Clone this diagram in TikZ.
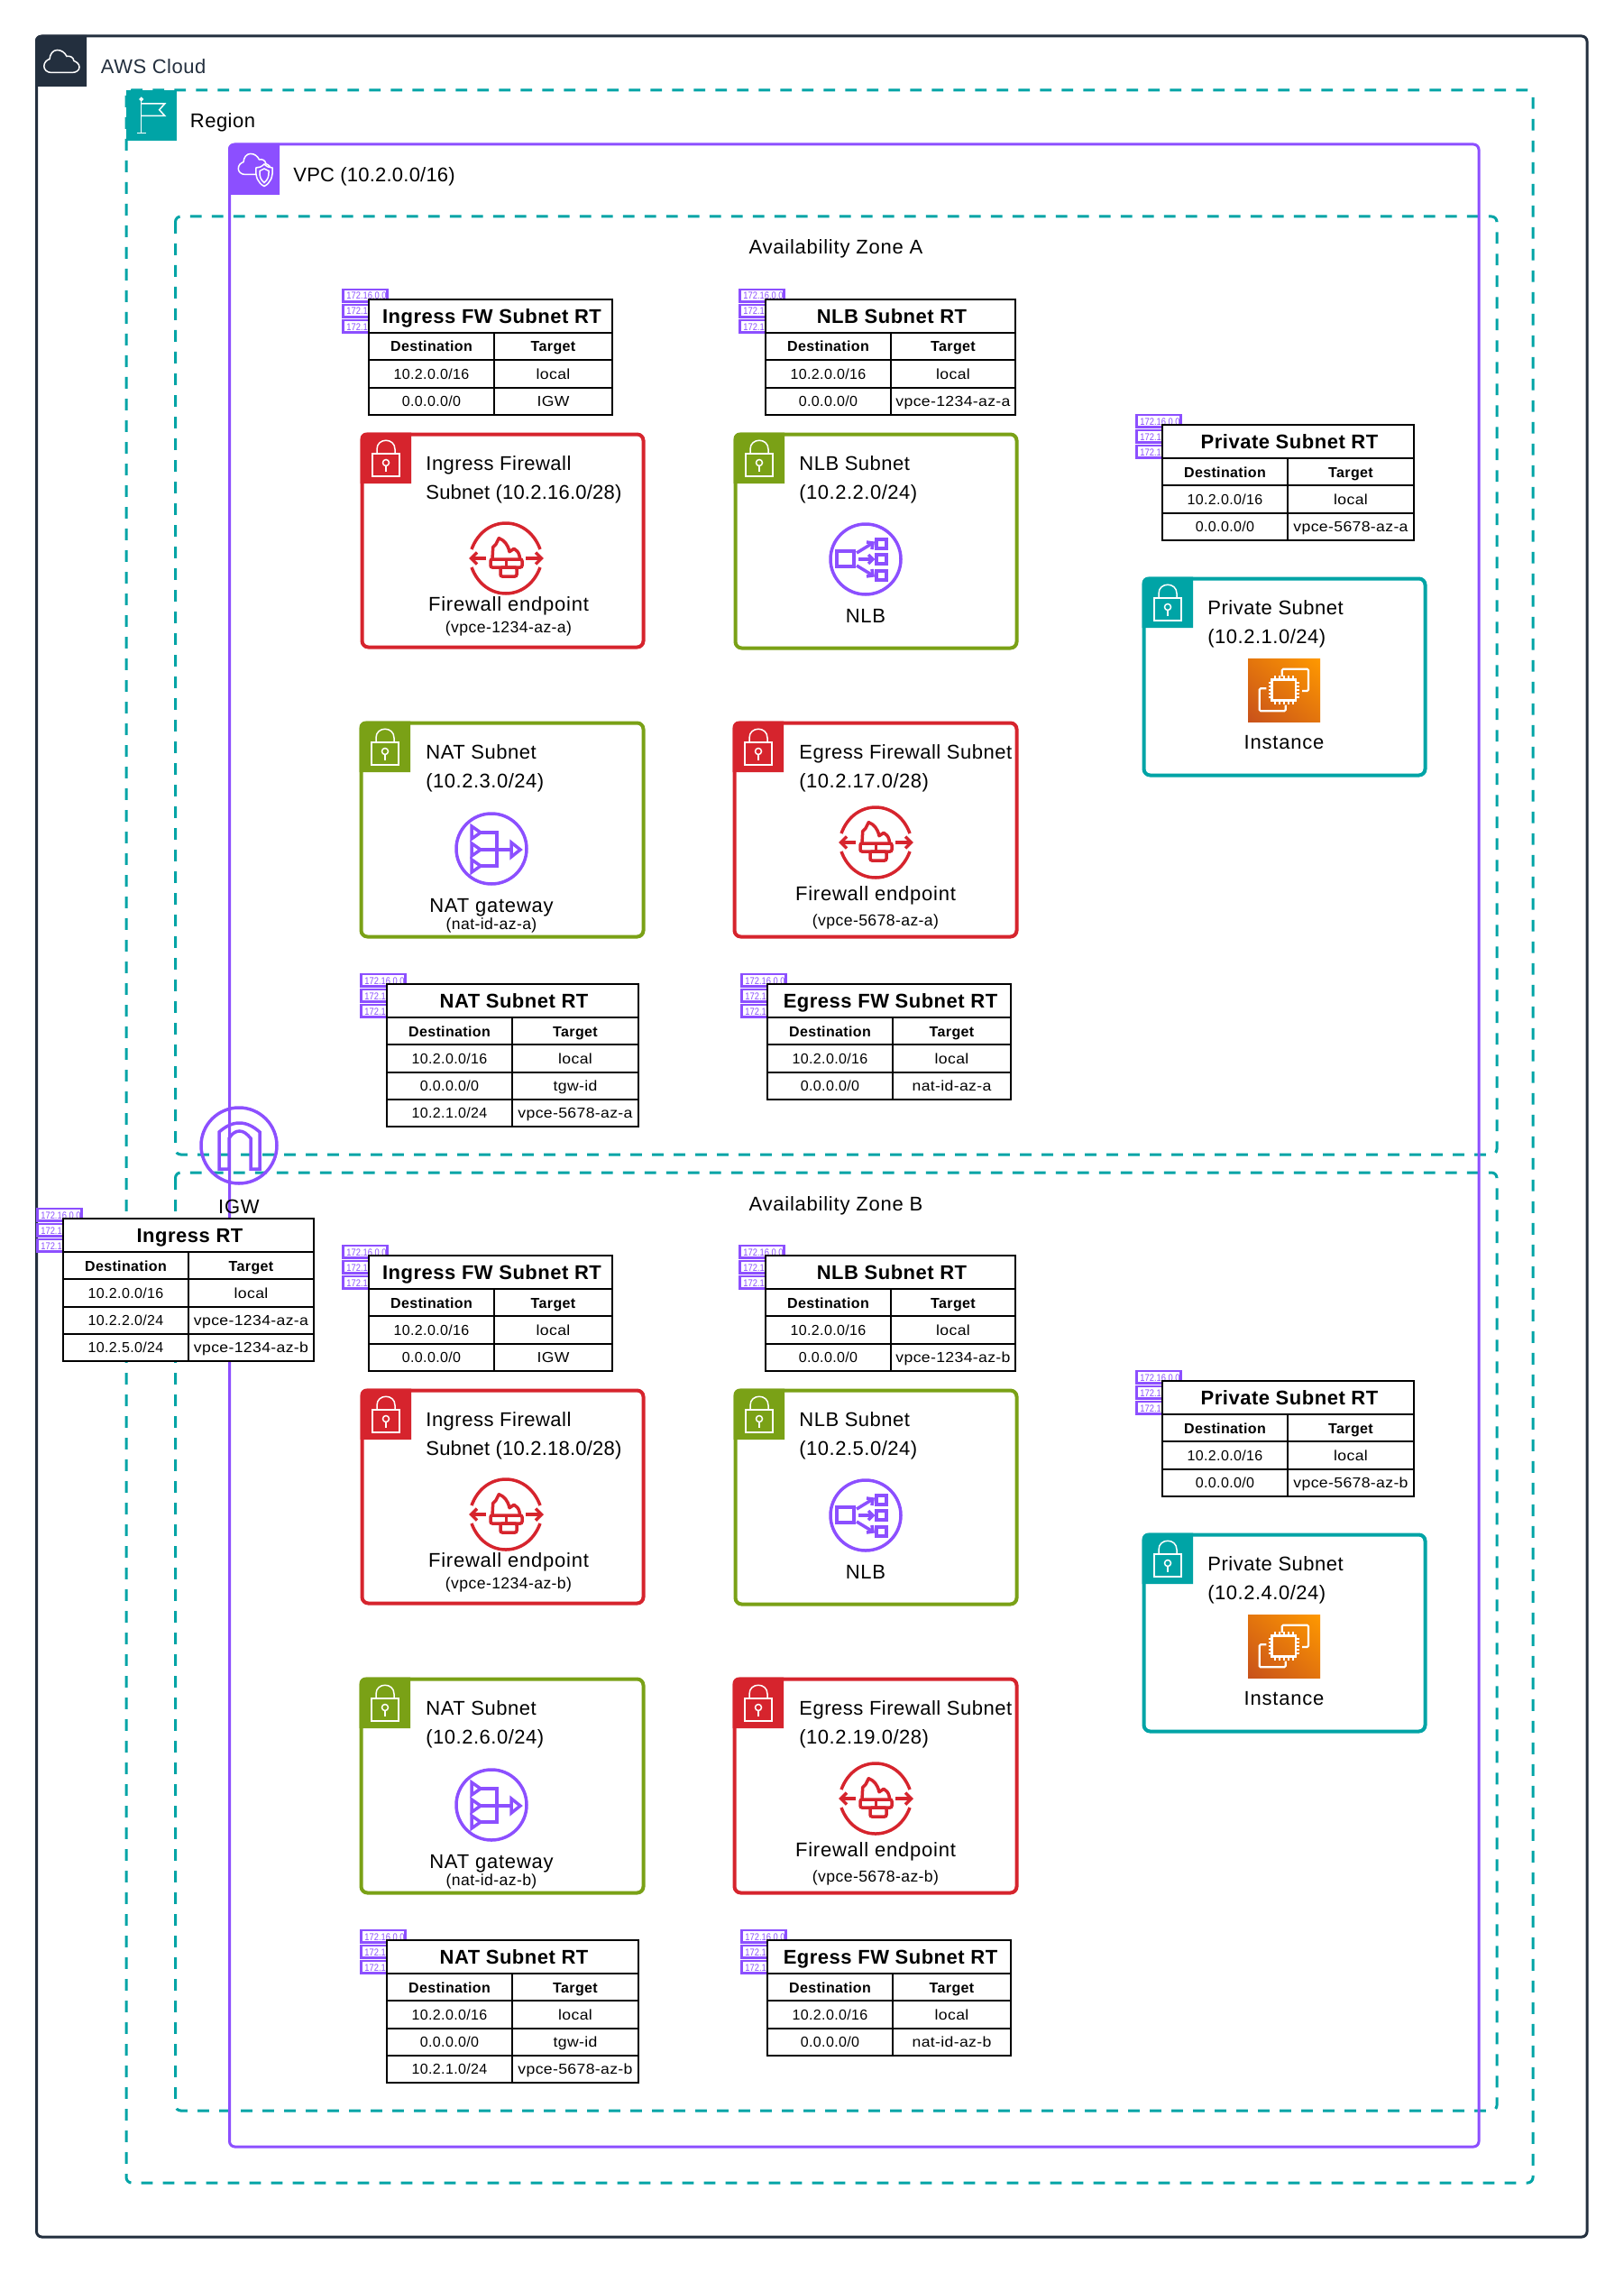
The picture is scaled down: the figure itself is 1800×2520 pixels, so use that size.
\documentclass[tikz,border=0pt]{standalone}
\usepackage{fontspec}
\usetikzlibrary{shadings}
\setmainfont{Liberation Sans}[LetterSpace=2.3]
\newfontface\tightface{Liberation Sans}[LetterSpace=1]
\newfontface\wideface{Liberation Sans}[LetterSpace=3.5]
\newfontface\targetface{Liberation Sans}[LetterSpace=2.3,FakeStretch=1.1]
\newfontface\ipface{Liberation Sans}[FakeStretch=0.85]
\definecolor{awsnavy}{HTML}{232F3E}
\definecolor{awsteal}{HTML}{00A4A6}
\definecolor{awspurple}{HTML}{8C4FFF}
\definecolor{awsred}{HTML}{D6242D}
\definecolor{awsgreen}{HTML}{7AA116}
\definecolor{ecdark}{HTML}{C8511B}
\definecolor{ecmid}{HTML}{E3750D}
\definecolor{eclight}{HTML}{FF9900}
\tikzset{
  frame/.style={line width=1.5pt,rounded corners=3pt},
  dashframe/.style={frame,draw=awsteal,dash pattern=on 6.4pt off 5.6pt},
  subframe/.style={line width=2pt,rounded corners=3.5pt,draw=#1},
  lbl/.style={inner sep=0pt,anchor=base west,font=\fontsize{11}{13}\selectfont,text=black},
  lbltight/.style={inner sep=0pt,anchor=base west,font=\fontsize{11}{13}\tightface,text=black},
  lblc/.style={inner sep=0pt,anchor=base,font=\fontsize{11}{13}\wideface,text=black},
  sublbl/.style={inner sep=0pt,anchor=base,font=\fontsize{8.8}{10}\selectfont,text=black},
  rtline/.style={draw=black,line width=1.1pt,line join=miter},
  rttitle/.style={inner sep=0pt,anchor=base,font=\fontsize{11}{13}\selectfont\bfseries,text=black},
  rthead/.style={inner sep=0pt,anchor=base,font=\fontsize{8}{10}\selectfont\bfseries,text=black},
  rtcell/.style={inner sep=0pt,anchor=base,font=\fontsize{8}{10}\selectfont,text=black},
  rttarget/.style={inner sep=0pt,anchor=base,font=\fontsize{8}{10}\targetface,text=black},
  ipbox/.style={draw=awspurple,line width=1.3pt,fill=white},
  iptext/.style={inner sep=0pt,anchor=base west,font=\fontsize{5.5}{6}\ipface,text=awspurple},
  icoline/.style={draw=#1,line width=1.75pt,line join=miter},
  hdricon/.style={draw=white,line width=0.75pt},
}
\newcount\rtn
\newcommand\rtcellrow[6]{% name, style d, style t, id, d, t
  \pgfmathsetmacro\rtya{\rty+37+30.3*\the\rtn}
  \pgfmathsetmacro\rtyb{\rtya+30.3}
  \pgfmathsetmacro\rtbase{\rtya+21}
  \pgfmathsetmacro\rtcd{(\rta+\rtm)/2}
  \pgfmathsetmacro\rtct{(\rtm+\rtb)/2}
  \draw[rtline,fill=white] (\rta,\rtya) rectangle (\rtb,\rtyb);
  \draw[rtline] (\rtm,\rtya) -- (\rtm,\rtyb);
  \node[#2] (#1-#4-d) at (\rtcd,\rtbase) {#5};
  \node[#3] (#1-#4-t) at (\rtct,\rtbase) {#6};
  \global\advance\rtn by 1
}
\newcommand\rtstart[6]{% name xa xm xb y title
  \gdef\rtname{#1}\gdef\rta{#2}\gdef\rtm{#3}\gdef\rtb{#4}\gdef\rty{#5}\global\rtn=0
  \foreach \i [count=\k] in {-12,5,22}{
    \draw[ipbox] ({#2-28.5},{#5+\i+1}) rectangle ({#2+20.5},{#5+\i+14.5});
    \node[iptext] (#1-ip\k) at ({#2-25},{#5+\i+12}) {172.16.0.0};
  }
  \draw[rtline,fill=white] (#2,#5) rectangle (#4,{#5+37});
  \node[rttitle] (#1-title) at ({(#2+#4)/2+1.5},{#5+26.5}) {#6};
  \rtcellrow{#1}{rthead}{rthead}{h}{Destination}{Target}
}
\newcommand\rtrow[2]{\rtcellrow{\rtname}{rtcell}{rttarget}{r\the\rtn}{#1}{#2}}
\newcommand\lockicon[2]{%
  \begin{scope}[shift={(#1,#2)}]
    \draw[hdricon] (13,23) rectangle (43,48);
    \draw[hdricon] (18,23) -- (18,18) .. controls (18,5) and (38,5) .. (38,18) -- (38,23);
    \draw[hdricon] (28,33) circle[radius=3.5];
    \draw[hdricon] (28,36.5) -- (28,43);
  \end{scope}
}
\newcommand\subnetbox[9]{% name x0 y0 x1 y1 colour line1 line2 textx
  \draw[subframe=#6] ({#2+1.5},{#3+1.5}) rectangle ({#4-1.5},{#5-1.5});
  \fill[#6] ({#2-0.5},{#3+56}) [rounded corners=3.5pt] -- ({#2-0.5},{#3-0.5}) [sharp corners] -- ({#2+56},{#3-0.5}) -- ({#2+56},{#3+56}) -- cycle;
  \lockicon{#2}{#3}
  \node[lbl] (#1-l1) at (#9,{#3+41.5}) {#7};
  \node[lbl] (#1-l2) at (#9,{#3+73.5}) {#8};
}
\newcommand\fwicon[2]{%
  \begin{scope}[shift={(#1,#2)}]
    \draw[icoline=awsred] (-38,-10) .. controls (-31,-29) and (-16,-39) .. (0,-39) .. controls (16,-39) and (31,-29) .. (38,-10);
    \draw[icoline=awsred] (-38,10) .. controls (-31,29) and (-16,39) .. (0,39) .. controls (16,39) and (31,29) .. (38,10);
    \draw[icoline=awsred] (-22,0) -- (-38,0);
    \draw[icoline=awsred] (-32,-6.5) -- (-38.5,0) -- (-32,6.5);
    \draw[icoline=awsred] (22,0) -- (39,0);
    \draw[icoline=awsred] (33,-6.5) -- (39.5,0) -- (33,6.5);
    \draw[icoline=awsred,rounded corners=1pt] (-17,1) rectangle (18,10);
    \draw[icoline=awsred] (0.5,1) -- (0.5,10);
    \draw[icoline=awsred,rounded corners=1pt] (-6,10) rectangle (12,20);
    \draw[icoline=awsred,line join=round] (-15,1) -- (-14.3,-12.3) -- (-11,-15.7) -- (-7.7,-22.3) .. controls (-2,-20) and (2,-16) .. (4,-7.3) -- (9,-10.7) .. controls (12,-9) and (14,-7) .. (15,-3) -- (15.7,1);
  \end{scope}
}
\newcommand\nlbicon[2]{%
  \begin{scope}[shift={(#1,#2)}]
    \draw[icoline=awspurple] (0,0) circle[radius=39];
    \draw[icoline=awspurple] (-32,-9) rectangle (-13,8);
    \draw[icoline=awspurple] (12,-22) rectangle (23,-12);
    \draw[icoline=awspurple] (12,-5) rectangle (23,5);
    \draw[icoline=awspurple] (12,13) rectangle (23,23);
    \draw[icoline=awspurple] (-10,-7) -- (8,-18);
    \draw[icoline=awspurple] (1,-19) -- (8,-18) -- (7,-11);
    \draw[icoline=awspurple] (-8,0) -- (8,0);
    \draw[icoline=awspurple] (3,-5) -- (8,0) -- (3,5);
    \draw[icoline=awspurple] (-10,7) -- (8,18);
    \draw[icoline=awspurple] (1,19) -- (8,18) -- (7,11);
  \end{scope}
}
\newcommand\naticon[2]{%
  \begin{scope}[shift={(#1,#2)}]
    \draw[icoline=awspurple] (0,0) circle[radius=39];
    \draw[icoline=awspurple] (-22,-25) -- (-12,-18) -- (-22,-11) -- cycle;
    \draw[icoline=awspurple] (-22,-6) -- (-12,1) -- (-22,8) -- cycle;
    \draw[icoline=awspurple] (-22,12) -- (-12,19) -- (-22,26) -- cycle;
    \draw[icoline=awspurple] (-12,-18) -- (6,-18) -- (6,19) -- (-12,19);
    \draw[icoline=awspurple] (-12,1) -- (22,1);
    \draw[icoline=awspurple] (22,-7) -- (32,1) -- (22,9) -- cycle;
  \end{scope}
}
\newcommand\instancebox[2]{%
  \begin{scope}[shift={(#1,#2)}]
    \shade[upper left=ecmid,upper right=eclight,lower left=ecdark,lower right=ecmid] (0,0) rectangle (80,70);
    \draw[hdricon,line width=1.1pt,rounded corners=0.7pt] (37.7,20) -- (37.7,11.7) -- (67,11.7) -- (67,36) -- (60,36);
    \draw[hdricon,line width=1.1pt,rounded corners=0.7pt] (20.3,33.3) -- (12.7,33.3) -- (12.7,58.3) -- (41.7,58.3) -- (41.7,51.7);
    \draw[hdricon,line width=1.1pt] (26.5,23.5) rectangle (53,46.5);
    \foreach \p in {0,1,2,3,4}{
      \draw[hdricon,line width=1pt] ({30+5*\p},19) -- ({30+5*\p},23.5);
      \draw[hdricon,line width=1pt] ({30+5*\p},46.5) -- ({30+5*\p},50.5);
      \draw[hdricon,line width=1pt] (22.7,{27+4*\p}) -- (26.5,{27+4*\p});
      \draw[hdricon,line width=1pt] (53,{27+4*\p}) -- (56.7,{27+4*\p});
    }
  \end{scope}
}
\newcommand\cloudpath{(8.5,25.5) .. controls (3.5,25.5) and (0.3,22) .. (0.3,18.5) .. controls (0.3,14.5) and (3,11.5) .. (6.5,10.5) .. controls (7,5) and (10,0.5) .. (15,0.5) .. controls (20,0.5) and (23.5,3.5) .. (25.5,7.5) .. controls (29,6.5) and (33,8.5) .. (33.5,12.5) .. controls (37,14) and (39.5,16) .. (39.5,19.5) .. controls (39.5,23) and (36,25.5) .. (31,25.5) -- cycle}
\begin{document}
\begin{tikzpicture}[x=0.5pt,y=-0.5pt]
\useasboundingbox (0,0) rectangle (1800,2520);
\fill[white] (0,0) rectangle (1800,2520);

% outer containers
\draw[frame,draw=awsnavy] (40.5,40) rectangle (1760,2480);
\fill[awsnavy] (39,96) [rounded corners=3pt] -- (39,39) [sharp corners] -- (96,39) -- (96,96) -- cycle;
\begin{scope}[shift={(48.5,55)}]
  \draw[hdricon] \cloudpath;
\end{scope}
\node[lbl,text=awsnavy] (cloudlbl) at (111.5,81.7) {AWS Cloud};

\draw[dashframe] (140,100) rectangle (1700,2420);
\fill[awsteal] (140,156) -- (140,100) -- (196,100) -- (196,156) -- cycle;
\draw[hdricon] (156.7,112) -- (156.7,147);
\draw[hdricon] (152.3,147.3) -- (161.7,147.3);
\draw[hdricon] (156.7,110) circle[radius=1.6];
\draw[hdricon] (156.7,115) -- (182.7,115) -- (176.7,121.7) -- (182.7,128.3) -- (156.7,128.3);
\node[lbl] (regionlbl) at (210.5,141.7) {Region};

% availability zones
\draw[dashframe] (194.5,240) rectangle (1660,1280);
\draw[dashframe] (194.5,1300) rectangle (1660,2340);
\node[lblc] (aza) at (927,282) {Availability Zone A};
\node[lblc] (azb) at (927,1342) {Availability Zone B};

% VPC
\draw[frame,draw=awspurple] (254.5,160) rectangle (1640,2380);
\fill[awspurple] (253,216) [rounded corners=3pt] -- (253,159) [sharp corners] -- (310,159) -- (310,216) -- cycle;
\begin{scope}[shift={(264,170)},scale=0.92]
  \draw[hdricon] \cloudpath;
\end{scope}
\draw[hdricon,fill=awspurple] (293,182) .. controls (296,185) and (299,186) .. (302,186) .. controls (303,196) and (300,203) .. (293,206.5) .. controls (286,203) and (283,196) .. (284,186) .. controls (287,186) and (290,185) .. (293,182) -- cycle;
\draw[hdricon] (293,187) .. controls (295,188.5) and (296,189) .. (298,189.5) .. controls (298.5,195) and (297,199.5) .. (293,202.5) .. controls (289,199.5) and (287.5,195) .. (288,189.5) .. controls (290,189) and (291,188.5) .. (293,187) -- cycle;
\node[lbltight] (vpclbl) at (325,201.7) {VPC (10.2.0.0/16)};

% Zone A
\begin{scope}
\rtstart{a-ifrt}{409}{548}{679}{332}{Ingress FW Subnet RT}
\rtrow{10.2.0.0/16}{local}
\rtrow{0.0.0.0/0}{IGW}
\subnetbox{a-ifw}{400}{480}{715}{719}{awsred}{Ingress Firewall}{\tightface Subnet (10.2.16.0/28)}{472}
\fwicon{561}{619}
\node[lblc] (a-ifw-n) at (564,677.7) {Firewall endpoint};
\node[sublbl] (a-ifw-s) at (564,701.7) {(vpce-1234-az-a)};

\rtstart{a-nlbrt}{849}{988}{1126}{332}{NLB Subnet RT}
\rtrow{10.2.0.0/16}{local}
\rtrow{0.0.0.0/0}{vpce-1234-az-a}
\subnetbox{a-nlb}{814}{480}{1129}{720}{awsgreen}{NLB Subnet}{(10.2.2.0/24)}{886}
\nlbicon{960}{620}
\node[lblc] (a-nlb-n) at (960,690) {NLB};

\rtstart{a-prt}{1289}{1428}{1568}{471}{Private Subnet RT}
\rtrow{10.2.0.0/16}{local}
\rtrow{0.0.0.0/0}{vpce-5678-az-a}
\subnetbox{a-p}{1267}{640}{1582}{861}{awsteal}{Private Subnet}{(10.2.1.0/24)}{1339}
\instancebox{1384}{730}
\node[lblc] (a-p-n) at (1424,830) {Instance};

\subnetbox{a-nat}{399}{800}{715}{1040}{awsgreen}{NAT Subnet}{(10.2.3.0/24)}{472}
\naticon{545}{941}
\node[lblc] (a-nat-n) at (545,1011.7) {NAT gateway};
\node[sublbl] (a-nat-s) at (545,1030.7) {(nat-id-az-a)};

\subnetbox{a-efw}{813}{800}{1129}{1040}{awsred}{Egress Firewall Subnet}{(10.2.17.0/28)}{886}
\fwicon{971}{934}
\node[lblc] (a-efw-n) at (971,998) {Firewall endpoint};
\node[sublbl] (a-efw-s) at (971,1026.7) {(vpce-5678-az-a)};

\rtstart{a-natrt}{429}{568}{708}{1091}{NAT Subnet RT}
\rtrow{10.2.0.0/16}{local}
\rtrow{0.0.0.0/0}{tgw-id}
\rtrow{10.2.1.0/24}{vpce-5678-az-a}

\rtstart{a-efrt}{851}{990}{1121}{1091}{Egress FW Subnet RT}
\rtrow{10.2.0.0/16}{local}
\rtrow{0.0.0.0/0}{nat-id-az-a}
\end{scope}

% Zone B
\begin{scope}[shift={(0,1060)}]
\rtstart{b-ifrt}{409}{548}{679}{332}{Ingress FW Subnet RT}
\rtrow{10.2.0.0/16}{local}
\rtrow{0.0.0.0/0}{IGW}
\subnetbox{b-ifw}{400}{480}{715}{719}{awsred}{Ingress Firewall}{\tightface Subnet (10.2.18.0/28)}{472}
\fwicon{561}{619}
\node[lblc] (b-ifw-n) at (564,677.7) {Firewall endpoint};
\node[sublbl] (b-ifw-s) at (564,701.7) {(vpce-1234-az-b)};

\rtstart{b-nlbrt}{849}{988}{1126}{332}{NLB Subnet RT}
\rtrow{10.2.0.0/16}{local}
\rtrow{0.0.0.0/0}{vpce-1234-az-b}
\subnetbox{b-nlb}{814}{480}{1129}{720}{awsgreen}{NLB Subnet}{(10.2.5.0/24)}{886}
\nlbicon{960}{620}
\node[lblc] (b-nlb-n) at (960,690) {NLB};

\rtstart{b-prt}{1289}{1428}{1568}{471}{Private Subnet RT}
\rtrow{10.2.0.0/16}{local}
\rtrow{0.0.0.0/0}{vpce-5678-az-b}
\subnetbox{b-p}{1267}{640}{1582}{861}{awsteal}{Private Subnet}{(10.2.4.0/24)}{1339}
\instancebox{1384}{730}
\node[lblc] (b-p-n) at (1424,830) {Instance};

\subnetbox{b-nat}{399}{800}{715}{1040}{awsgreen}{NAT Subnet}{(10.2.6.0/24)}{472}
\naticon{545}{941}
\node[lblc] (b-nat-n) at (545,1011.7) {NAT gateway};
\node[sublbl] (b-nat-s) at (545,1030.7) {(nat-id-az-b)};

\subnetbox{b-efw}{813}{800}{1129}{1040}{awsred}{Egress Firewall Subnet}{(10.2.19.0/28)}{886}
\fwicon{971}{934}
\node[lblc] (b-efw-n) at (971,998) {Firewall endpoint};
\node[sublbl] (b-efw-s) at (971,1026.7) {(vpce-5678-az-b)};

\rtstart{b-natrt}{429}{568}{708}{1091}{NAT Subnet RT}
\rtrow{10.2.0.0/16}{local}
\rtrow{0.0.0.0/0}{tgw-id}
\rtrow{10.2.1.0/24}{vpce-5678-az-b}

\rtstart{b-efrt}{851}{990}{1121}{1091}{Egress FW Subnet RT}
\rtrow{10.2.0.0/16}{local}
\rtrow{0.0.0.0/0}{nat-id-az-b}
\end{scope}

% IGW
\draw[icoline=awspurple] (265,1270) circle[radius=42];
\draw[icoline=awspurple] (243,1296) -- (243,1255) .. controls (250,1249) and (257,1245) .. (265.5,1245) .. controls (274,1245) and (281,1249) .. (288,1255) -- (288,1296) -- (278,1296) -- (278,1262) .. controls (274,1257) and (270,1254) .. (265.5,1254) .. controls (261,1254) and (257,1257) .. (254,1262) -- (254,1296) -- cycle;
\node[lblc] (igwlbl) at (265,1345) {IGW};

\rtstart{irt}{70}{209}{348}{1351}{Ingress RT}
\rtrow{10.2.0.0/16}{local}
\rtrow{10.2.2.0/24}{vpce-1234-az-a}
\rtrow{10.2.5.0/24}{vpce-1234-az-b}
\end{tikzpicture}
\end{document}
